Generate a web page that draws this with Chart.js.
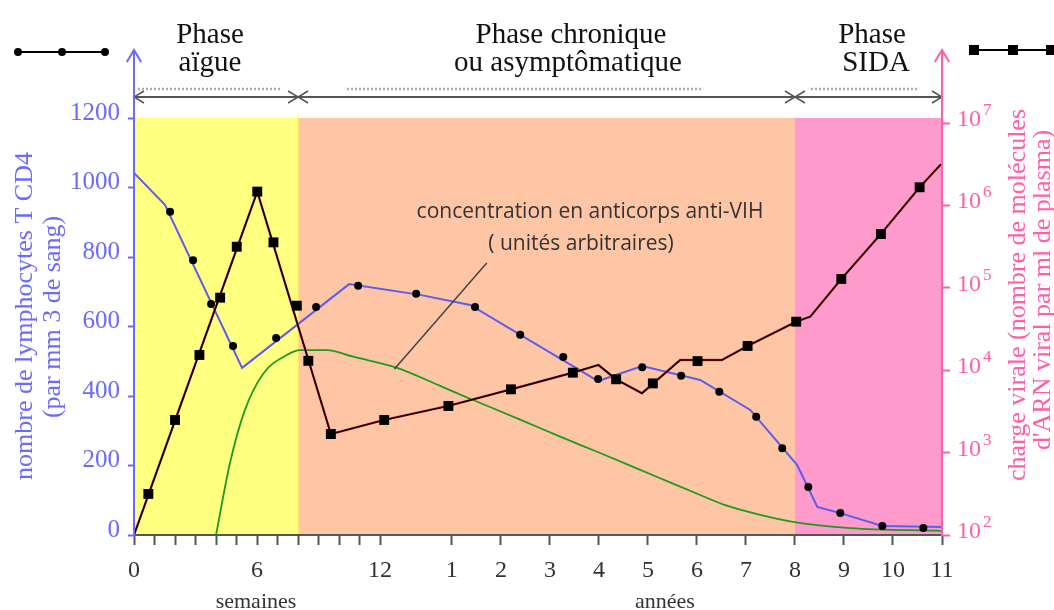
<!DOCTYPE html>
<html>
<head>
<meta charset="utf-8">
<script src="https://cdn.jsdelivr.net/npm/chart.js@4.4.0/dist/chart.umd.min.js"></script>
<style>
  body { margin: 0; background: #fff; }
  canvas { display: block; }
</style>
</head>
<body>
<canvas id="myCanvas" width="1054" height="610"></canvas>
<script>
// x positions are in "graduation units": weeks 0..12 map to 0..12,
// then the years are placed with yearPos() (the axis changes scale after 12 weeks)
const weekTicks = [0, 1, 2, 3, 4, 5, 6, 7, 8, 9, 10, 11, 12]
const weekLabels = [0, 6, 12]
const yearTicks = [1, 2, 3, 4, 5, 6, 7, 8, 9, 10, 11]
function yearPos(y) { return 15.5 + (y - 1) * 2.39 }

const cd4Ticks = [0, 200, 400, 600, 800, 1000, 1200]
const viralTicks = [1e2, 1e3, 1e4, 1e5, 1e6, 1e7]

// lymphocytes T CD4 (blue line + black dots)
const cd4LineX = [0, 1.51, 5.27, 10.49, 13.95, 16.39, 22.63, 24.78, 27.61, 30.05, 32.34, 33.32, 34.44, 36.49, 39.4]
const cd4LineY = [1042, 950, 481, 722, 691, 662, 443, 486, 446, 360, 201, 81, 63, 26, 23]
const cd4DotX = [1.76, 2.88, 3.76, 4.83, 6.93, 8.88, 10.93, 13.76, 16.63, 18.83, 20.93, 22.63, 24.78, 26.68, 28.54, 30.34, 31.61, 32.88, 34.44, 36.49, 38.49]
const cd4DotY = [930, 791, 665, 544, 567, 656, 717, 694, 656, 576, 512, 449, 483, 458, 412, 340, 250, 138, 63, 26, 20]

// charge virale (red/black line + black squares)
const viralLineX = [0, 6.01, 9.6, 12.2, 15.32, 18.38, 21.4, 22.65, 23.5, 24.77, 26.63, 28.67, 29.92, 32.29, 32.98, 34.49, 36.42, 38.31, 39.35]
const viralLineY = [100, 1.47e6, 1680, 2490, 3680, 5860, 9330, 11560, 7760, 5250, 13300, 13300, 19700, 38800, 44700, 128000, 450000, 1.66e6, 3.16e6]
const viralPtX = [0.7, 2.0, 3.19, 4.2, 5.01, 6.01, 6.8, 7.94, 8.5, 9.6, 12.2, 15.33, 18.38, 21.4, 23.51, 25.3, 27.48, 29.92, 32.29, 34.49, 36.42, 38.31]
const viralPtY = [315, 2490, 15300, 75900, 315000, 1.47e6, 356000, 60700, 13000, 1680, 2490, 3680, 5860, 9330, 7760, 6920, 12900, 19700, 38800, 128000, 450000, 1.66e6]

// anticorps anti-VIH (arbitrary units, drawn on the left scale)
const abX = [4.0, 4.68, 5.41, 6.31, 7.45, 8.1, 9.4, 10.7, 12.83, 14.93, 16.39, 18.83, 20.78, 22.73, 25.51, 27.61, 28.83, 30.54, 32.2, 34.93, 39.37]
const abY = [0, 207, 360, 465, 518, 532, 532, 513, 481, 429, 392, 332, 283, 236, 167, 115, 86, 58, 37, 20, 12]

const phaseNames = [['Phase', 'aïgue'], ['Phase chronique', 'ou asymptômatique'], ['Phase', 'SIDA']]
const phaseEdges = [0, 8, yearPos(8), yearPos(11)]
const phaseColors = ['#ffff80', '#ffc6a6', '#ff9acc']

const tickPos = weekTicks.concat(yearTicks.map(yearPos))
const tickText = weekTicks.map(w => weekLabels.includes(w) ? String(w) : '').concat(yearTicks.map(String))

const pts = (xs, ys) => xs.map((x, i) => ({ x: x, y: ys[i] }))

const BLUE = '#6a6aff'
const PINK = '#ff5fa8'
const SERIF = '"Liberation Serif", "Times New Roman", serif'

Chart.defaults.font.family = SERIF

function chevron(ctx, x, y, dx, dy, size) {
    // open arrow head pointing in direction (dx, dy)
    ctx.beginPath()
    ctx.moveTo(x - dx * size + dy * size * 0.6, y - dy * size + dx * size * 0.6)
    ctx.lineTo(x, y)
    ctx.lineTo(x - dx * size - dy * size * 0.6, y - dy * size - dx * size * 0.6)
    ctx.stroke()
}

const decor = {
    id: 'decor',
    beforeDraw(chart) {
        const { ctx, chartArea: a, scales: { x } } = chart
        ctx.save()
        for (let i = 0; i < 3; i++) {
            const x0 = x.getPixelForValue(phaseEdges[i])
            const x1 = x.getPixelForValue(phaseEdges[i + 1])
            ctx.fillStyle = phaseColors[i]
            ctx.fillRect(x0, a.top, x1 - x0, a.bottom - a.top)
        }
        // thin yellow edge of the first phase
        const xb = x.getPixelForValue(phaseEdges[1])
        ctx.strokeStyle = '#ffff40'
        ctx.lineWidth = 1
        ctx.beginPath(); ctx.moveTo(xb, a.top - 5); ctx.lineTo(xb, a.bottom); ctx.stroke()
        ctx.restore()
    },
    afterDraw(chart) {
        const { ctx, chartArea: a, scales: { x, y, y2 } } = chart
        const ex = phaseEdges.map(v => x.getPixelForValue(v))
        ctx.save()

        // phase header arrows
        ctx.strokeStyle = '#555'
        ctx.lineWidth = 2
        ctx.beginPath(); ctx.moveTo(ex[0], 97); ctx.lineTo(ex[3], 97); ctx.stroke()
        ctx.lineWidth = 1.5
        for (let i = 0; i < 3; i++) {
            chevron(ctx, ex[i], 97, -1, 0, 10)
            chevron(ctx, ex[i + 1], 97, 1, 0, 10)
        }
        // dotted guides above arrows
        ctx.strokeStyle = '#aaa'
        ctx.lineWidth = 2.5
        ctx.setLineDash([2, 2])
        const dots = [[ex[0] + 4, ex[1] - 16], [ex[1] + 49, ex[2] - 94], [ex[2] + 16, ex[3] - 24]]
        dots.forEach(d => { ctx.beginPath(); ctx.moveTo(d[0], 89); ctx.lineTo(d[1], 89); ctx.stroke() })
        ctx.setLineDash([])

        // phase names
        ctx.fillStyle = '#111'
        ctx.font = '29px ' + SERIF
        ctx.textAlign = 'center'
        ctx.textBaseline = 'alphabetic'
        const centers = [[210, 210], [571, 568], [872, 876]]
        phaseNames.forEach((n, i) => {
            ctx.fillText(n[0], centers[i][0], 43)
            ctx.fillText(n[1], centers[i][1], 71)
        })

        // axis arrows
        ctx.lineWidth = 2
        ctx.strokeStyle = BLUE
        ctx.beginPath(); ctx.moveTo(a.left, a.bottom); ctx.lineTo(a.left, 50); ctx.stroke()
        chevron(ctx, a.left, 50, 0, -1, 12)
        ctx.strokeStyle = PINK
        ctx.beginPath(); ctx.moveTo(a.right, a.bottom); ctx.lineTo(a.right, 50); ctx.stroke()
        chevron(ctx, a.right, 50, 0, -1, 12)

        // right tick labels 10^n
        ctx.fillStyle = PINK
        ctx.textAlign = 'left'
        viralTicks.forEach(v => {
            const py = y2.getPixelForValue(v)
            ctx.font = '24px ' + SERIF
            ctx.fillText('10', a.right + 15, py + 3)
            const w = ctx.measureText('10').width
            ctx.font = '17px ' + SERIF
            ctx.fillText(String(Math.round(Math.log10(v))), a.right + 17 + w, py - 8)
        })

        // axis titles
        ctx.textAlign = 'center'
        ctx.textBaseline = 'middle'
        ctx.font = '26px ' + SERIF
        ctx.fillStyle = BLUE
        ctx.save(); ctx.translate(25, 316); ctx.rotate(-Math.PI / 2)
        ctx.fillText('nombre de lymphocytes T CD4', 0, 0); ctx.restore()
        ctx.save(); ctx.translate(53, 317); ctx.rotate(-Math.PI / 2)
        ctx.fillText('(par mm 3 de sang)', 0, 0); ctx.restore()
        ctx.fillStyle = PINK
        ctx.save(); ctx.translate(1018, 295); ctx.rotate(-Math.PI / 2)
        ctx.fillText('charge virale (nombre de molécules', 0, 0); ctx.restore()
        ctx.save(); ctx.translate(1043, 290); ctx.rotate(-Math.PI / 2)
        ctx.fillText("d'ARN viral par ml de plasma)", 0, 0); ctx.restore()

        // x unit names
        ctx.fillStyle = '#333'
        ctx.font = '22px ' + SERIF
        ctx.textBaseline = 'alphabetic'
        ctx.fillText('semaines', 256, 608)
        ctx.fillText('années', 665, 608)

        // legend glyphs
        ctx.strokeStyle = '#000'
        ctx.fillStyle = '#000'
        ctx.lineWidth = 2
        ctx.beginPath(); ctx.moveTo(18, 52); ctx.lineTo(105, 52); ctx.stroke()
        ;[18, 62, 105].forEach(px => { ctx.beginPath(); ctx.arc(px, 52, 4, 0, Math.PI * 2); ctx.fill() })
        ctx.beginPath(); ctx.moveTo(974, 50); ctx.lineTo(1054, 50); ctx.stroke()
        ;[974, 1013, 1051].forEach(px => ctx.fillRect(px - 5, 45, 10, 10))

        // antibody annotation
        ctx.strokeStyle = '#444'
        ctx.lineWidth = 1.5
        ctx.beginPath()
        ctx.moveTo(x.getPixelForValue(12.7), y.getPixelForValue(478))
        ctx.lineTo(x.getPixelForValue(17.2), y.getPixelForValue(783))
        ctx.stroke()
        ctx.fillStyle = '#333'
        ctx.font = '21px "Open Sans", sans-serif'
        ctx.textAlign = 'center'
        ctx.fillText('concentration en anticorps anti-VIH', 590, 218)
        ctx.fillText('( unités arbitraires)', 581, 250)
        ctx.restore()
    }
}

new Chart(document.getElementById('myCanvas'), {
    type: 'line',
    data: {
        datasets: [
            { data: pts(viralPtX, viralPtY), yAxisID: 'y2', showLine: false, pointStyle: 'rect', pointRadius: 7, pointBackgroundColor: '#000', pointBorderWidth: 0 },
            { data: pts(viralLineX, viralLineY), yAxisID: 'y2', borderColor: '#000', borderWidth: 1.7, pointRadius: 0 },
            { data: pts(viralLineX, viralLineY), yAxisID: 'y2', borderColor: '#ff3a3a', borderWidth: 2.3, pointRadius: 0 },
            { data: pts(cd4DotX, cd4DotY), yAxisID: 'y', showLine: false, pointRadius: 4, pointBackgroundColor: '#000', pointBorderWidth: 0 },
            { data: pts(cd4LineX, cd4LineY), yAxisID: 'y', borderColor: '#5c5cee', borderWidth: 2, pointRadius: 0 },
            { data: pts(abX, abY), yAxisID: 'y', borderColor: '#1f9a1f', borderWidth: 1.8, pointRadius: 0, cubicInterpolationMode: 'monotone' }
        ]
    },
    options: {
        responsive: false,
        animation: false,
        layout: { padding: { top: 118, left: 0, right: 0, bottom: 0 } },
        plugins: { legend: { display: false }, tooltip: { enabled: false } },
        scales: {
            x: {
                type: 'linear', min: 0, max: yearPos(11),
                afterFit(s) { s.height = 75 },
                afterBuildTicks(s) { s.ticks = tickPos.map(v => ({ value: v })) },
                ticks: { autoSkip: false, maxRotation: 0, color: '#333', font: { size: 24 }, padding: 11, callback: (v, i) => tickText[i] },
                grid: { drawOnChartArea: false, tickLength: 10, tickColor: '#555', tickWidth: 2 },
                border: { color: '#555', width: 2 }
            },
            y: {
                position: 'left', min: 0, max: 1200,
                afterFit(s) { s.width = 134 },
                afterBuildTicks(s) { s.ticks = cd4Ticks.map(v => ({ value: v })) },
                ticks: { color: BLUE, font: { size: 25 }, padding: 8, labelOffset: -5, callback: v => String(v) },
                grid: { drawOnChartArea: false, tickLength: 6, tickColor: BLUE, tickWidth: 2 },
                border: { color: BLUE, width: 2 }
            },
            y2: {
                type: 'logarithmic', position: 'right', min: 100, max: 1.15e7,
                afterFit(s) { s.width = 112 },
                afterBuildTicks(s) { s.ticks = viralTicks.map(v => ({ value: v })) },
                ticks: { callback: () => '' },
                grid: { drawOnChartArea: false, tickLength: 8, tickColor: PINK, tickWidth: 2 },
                border: { color: PINK, width: 2 }
            }
        }
    },
    plugins: [decor]
})
</script>
</body>
</html>
